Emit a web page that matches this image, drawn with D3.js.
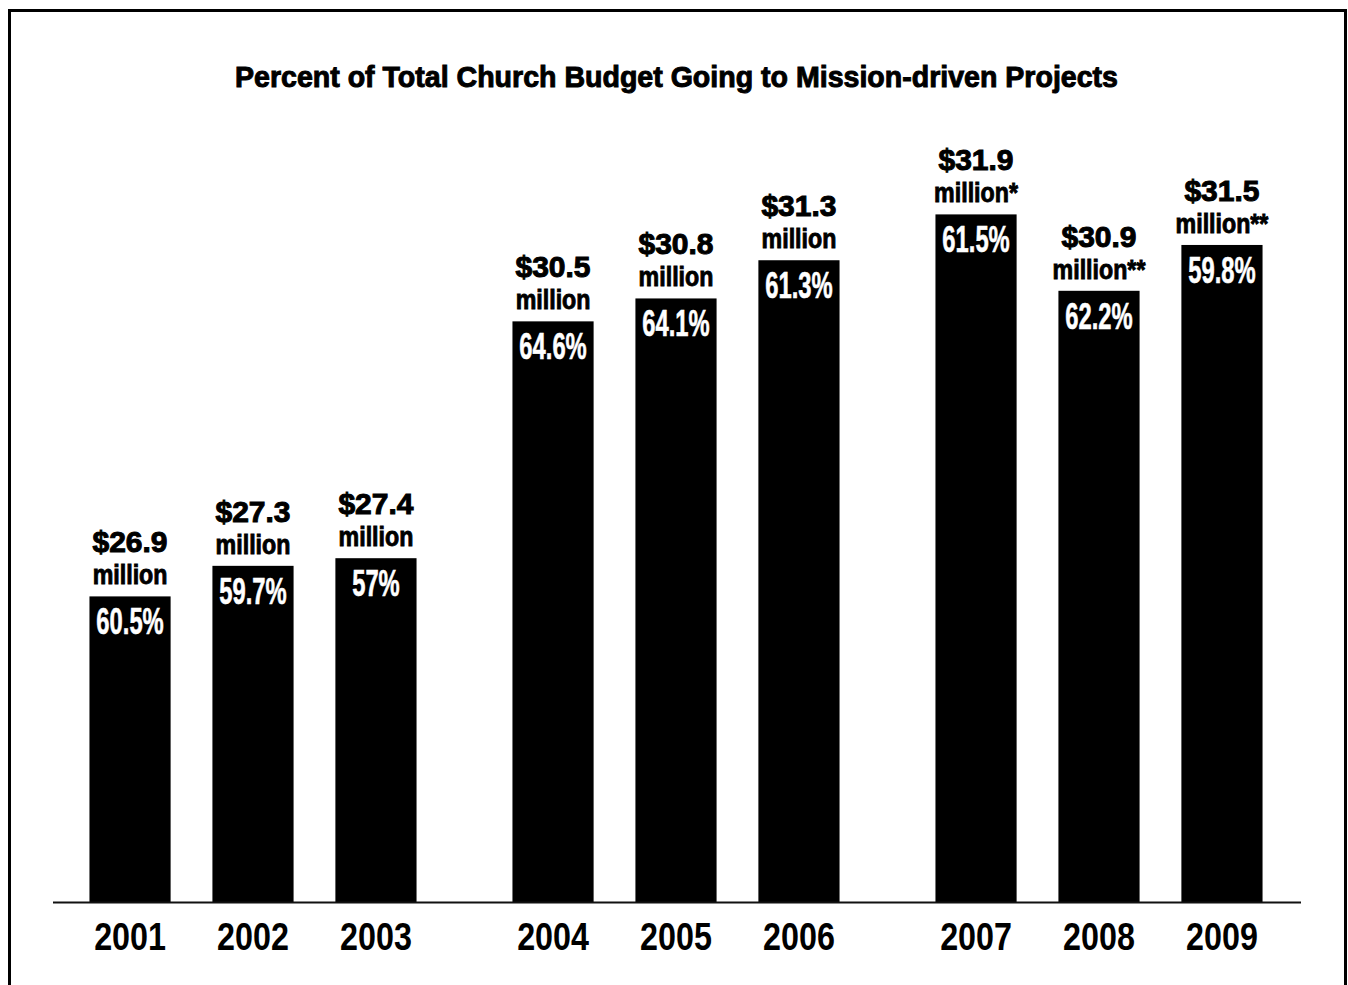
<!doctype html>
<html lang="en">
<head>
    <meta charset="utf-8">
    <title>Percent of Total Church Budget Going to Mission-driven Projects</title>
    <script src="https://d3js.org/d3.v7.min.js"></script>
    <style>
        body { margin: 0; background: #fff; }
        svg { display: block; }
        text { font-family: "Liberation Sans", Arial, sans-serif; font-weight: bold; }
    </style>
</head>
<body>
    <script>
       // data
       const years = ['2001', '2002', '2003', '2004', '2005', '2006', '2007', '2008', '2009'];
       const budgets = [26.9, 27.3, 27.4, 30.5, 30.8, 31.3, 31.9, 30.9, 31.5];   // $ million
       const notes = ['', '', '', '', '', '', '*', '**', '**'];
       const percents = ['60.5%', '59.7%', '57%', '64.6%', '64.1%', '61.3%', '61.5%', '62.2%', '59.8%'];
       const groups = ['2001-2003', '2004-2006', '2007-2009'];
       const title = 'Percent of Total Church Budget Going to Mission-driven Projects';

       let width = 1348, height = 985;
       let baseY = 902;

       let svg = d3.select('body').append('svg')
                   .attr('width', width).attr('height', height);

       // frame (open at the bottom edge)
       svg.append('rect')
          .attr('x', 9.5).attr('y', 10.5)
          .attr('width', 1336).attr('height', 1000)
          .attr('fill', 'none').attr('stroke', '#000').attr('stroke-width', 3);

       svg.append('text')
          .attr('x', 676.5).attr('y', 87)
          .attr('text-anchor', 'middle')
          .attr('textLength', 883).attr('lengthAdjust', 'spacingAndGlyphs')
          .attr('stroke', '#000').attr('stroke-width', 1)
          .style('font-size', '30px')
          .text(title);

       let x0 = d3.scaleBand().domain(groups).range([41.5, 1310.5]);
       let x1 = d3.scaleBand().domain([0, 1, 2]).range([0, x0.bandwidth()])
                  .paddingInner(0.34).paddingOuter(0.39);
       let y = d3.scaleLinear().domain([22.9, 31.9]).range([baseY, baseY - 76.4 * 9]);

       let data = years.map((yr, i) => ({
           year: yr, value: budgets[i], note: notes[i], pct: percents[i],
           group: groups[Math.floor(i / 3)], slot: i % 3
       }));
       let bx = d => x0(d.group) + x1(d.slot);
       let cx = d => bx(d) + x1.bandwidth() / 2;

       svg.selectAll('rect.bar').data(data).enter().append('rect')
          .attr('class', 'bar')
          .attr('x', bx)
          .attr('y', d => y(d.value))
          .attr('width', x1.bandwidth())
          .attr('height', d => baseY - y(d.value))
          .attr('fill', '#000');

       // baseline
       svg.append('line')
          .attr('x1', 53).attr('x2', 1301)
          .attr('y1', baseY + 0.5).attr('y2', baseY + 0.5)
          .attr('stroke', '#111').attr('stroke-width', 2);

       let labels = svg.selectAll('g.lab').data(data).enter().append('g')
                       .attr('class', 'lab');

       labels.append('text')
          .attr('x', cx).attr('y', d => y(d.value) - 44)
          .attr('text-anchor', 'middle')
          .attr('stroke', '#000').attr('stroke-width', 1)
          .style('font-size', '30px')
          .text(d => '$' + d3.format('.1f')(d.value));

       labels.append('text')
          .attr('transform', d => `translate(${cx(d)}, ${y(d.value) - 12}) scale(0.86, 1)`)
          .attr('text-anchor', 'middle')
          .attr('stroke', '#000').attr('stroke-width', 0.9)
          .style('font-size', '27px')
          .text(d => 'million' + d.note);

       labels.append('text')
          .attr('transform', d => `translate(${cx(d)}, ${y(d.value) + 38}) scale(0.66, 1)`)
          .attr('text-anchor', 'middle')
          .attr('fill', '#fff')
          .attr('stroke', '#fff').attr('stroke-width', 0.6)
          .style('font-size', '36px')
          .text(d => d.pct);

       labels.append('text')
          .attr('transform', d => `translate(${cx(d)}, 950) scale(0.85, 1)`)
          .attr('text-anchor', 'middle')
          .style('font-size', '38px')
          .text(d => d.year);
    </script>
</body>
</html>
